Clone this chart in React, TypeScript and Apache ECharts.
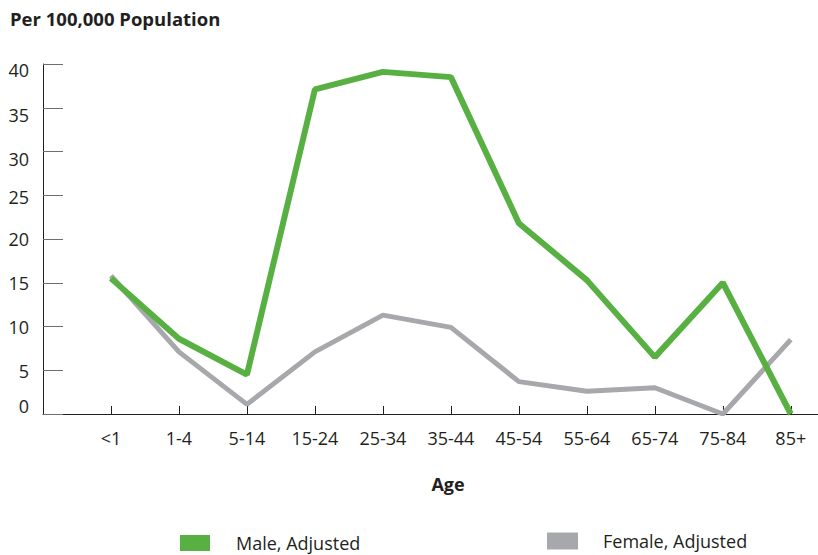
import React, { useEffect, useRef } from "react";
import * as echarts from "echarts";

const categories = ["<1", "1-4", "5-14", "15-24", "25-34", "35-44", "45-54", "55-64", "65-74", "75-84", "85+"];
const maleAdjusted = [15.5, 8.6, 4.5, 37.1, 39.1, 38.5, 21.8, 15.3, 6.5, 15.0, 0];
const femaleAdjusted = [15.8, 7.1, 1.1, 7.1, 11.3, 9.9, 3.7, 2.6, 3.0, 0, 8.5];
const yTicks = [0, 5, 10, 15, 20, 25, 30, 35, 40];

const FONT = "'Open Sans', 'Noto Sans', sans-serif";
const TEXT = "#231f20";

// small vertical nudges of the y labels, as in the reference (px, + = down)
const yLabelShift: Record<string, number> = { "40": 6, "35": 7, "30": 7, "25": 2, "20": 0, "15": 0, "10": 0, "5": 1, "0": -8 };

export default function App() {
  const ref = useRef<HTMLDivElement>(null);
  useEffect(() => {
    if (!ref.current) return;
    const chart = echarts.init(ref.current, null, { renderer: "svg" });
    const toPts = (arr: number[]) => arr.map((v, i) => [i, v]);
    const rich: Record<string, any> = {};
    yTicks.forEach((t) => {
      const d = yLabelShift[String(t)] || 0;
      rich["y" + t] = {
        fontFamily: FONT,
        fontSize: 18,
        color: TEXT,
        padding: d >= 0 ? [2 * d, 0, 0, 0] : [0, 0, -2 * d, 0],
      };
    });
    chart.setOption({
      animation: false,
      backgroundColor: "#ffffff",
      title: {
        text: "Per 100,000 Population",
        left: 10,
        top: 5,
        padding: 0,
        textStyle: { fontFamily: FONT, fontSize: 18.5, fontWeight: "bold", color: TEXT, lineHeight: 26 },
      },
      graphic: [
        {
          type: "text",
          x: 448,
          y: 484,
          style: {
            text: "Age",
            fontFamily: FONT,
            fontSize: 18,
            fontWeight: "bold",
            fill: TEXT,
            textAlign: "center",
            textVerticalAlign: "middle",
          },
        },
      ],
      legend: [
        {
          data: ["Male, Adjusted"],
          left: 180,
          top: 533,
          padding: 0,
          icon: "rect",
          itemWidth: 30,
          itemHeight: 16,
          selectedMode: false,
          textStyle: { fontFamily: FONT, fontSize: 18, color: TEXT, padding: [0, 0, 0, 21], lineHeight: 20 },
        },
        {
          data: ["Female, Adjusted"],
          left: 547,
          top: 531,
          padding: 0,
          icon: "rect",
          itemWidth: 31,
          itemHeight: 17,
          selectedMode: false,
          textStyle: { fontFamily: FONT, fontSize: 18, color: TEXT, padding: [0, 0, 0, 20], lineHeight: 20 },
        },
      ],
      grid: { left: 43, right: 0, top: 64, bottom: 141, containLabel: false },
      xAxis: {
        type: "value",
        min: -1,
        max: 10.4,
        interval: 1,
        splitLine: { show: false },
        axisLine: { show: true, onZero: false, lineStyle: { color: TEXT, width: 1 } },
        axisTick: { show: true, inside: true, length: 8, lineStyle: { color: TEXT } },
        axisLabel: {
          margin: 15,
          showMaxLabel: false,
          fontFamily: FONT,
          fontSize: 18,
          color: TEXT,
          formatter: (v: number) => (Number.isInteger(v) && v >= 0 ? categories[v] ?? "" : ""),
        },
      },
      yAxis: {
        type: "value",
        min: yTicks[0],
        max: yTicks[yTicks.length - 1],
        interval: 5,
        splitLine: { show: false },
        axisLine: { show: true, onZero: false, lineStyle: { color: TEXT, width: 1 } },
        axisTick: { show: true, inside: true, length: 20, lineStyle: { color: "#6d6e71" } },
        axisLabel: {
          margin: 14,
          fontFamily: FONT,
          fontSize: 18,
          color: TEXT,
          formatter: (v: number) => `{y${v}|${v}}`,
          rich,
        },
      },
      series: [
        {
          name: "Female, Adjusted",
          type: "line",
          data: toPts(femaleAdjusted),
          symbol: "none",
          color: "#a7a8ab",
          lineStyle: { width: 5, color: "#a7a8ab" },
          itemStyle: { color: "#a7a8ab" },
        },
        {
          name: "Male, Adjusted",
          type: "line",
          data: toPts(maleAdjusted),
          symbol: "none",
          color: "#58b043",
          lineStyle: { width: 6, color: "#58b043" },
          itemStyle: { color: "#58b043" },
        },
      ],
    });
    return () => chart.dispose();
  }, []);
  return <div ref={ref} style={{ position: "fixed", left: 0, top: 0, width: 818, height: 555 }} />;
}
